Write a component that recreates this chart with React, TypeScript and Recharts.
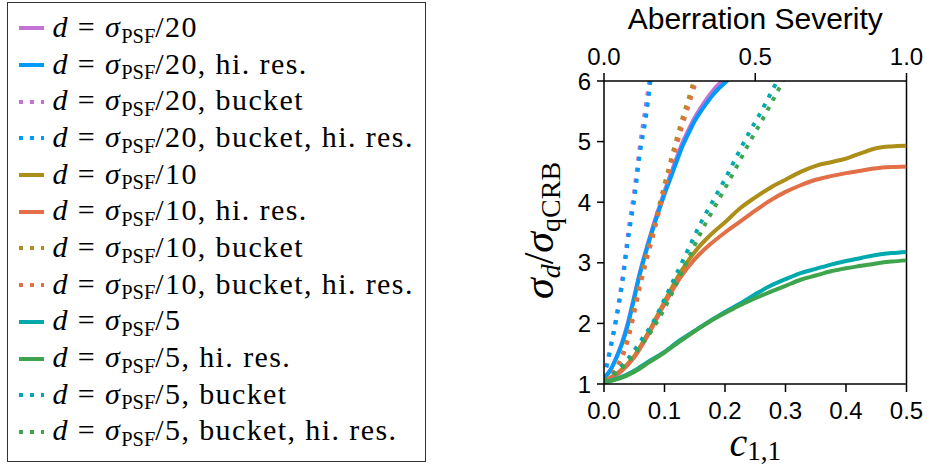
import React from 'react';
import { LineChart, Line, XAxis, YAxis, ReferenceLine, Label } from 'recharts';

// Plots.jl default palette
const PURPLE = '#c371d2';
const BLUE = '#009afa';
const OLIVE = '#ac8e18';
const ORANGE = '#e36f47';
const TEAL = '#00a9ad';
const GREEN = '#3ea44e';

// sample positions (c_{1,1})
const xSolid20 = [0, 0.01, 0.02, 0.03, 0.04, 0.05, 0.06, 0.07, 0.08, 0.09, 0.1, 0.11, 0.12, 0.13, 0.14, 0.15, 0.16, 0.17, 0.18, 0.19, 0.2, 0.21];
const xBucket20 = [0, 0.01, 0.02, 0.03, 0.04, 0.05, 0.06, 0.07, 0.08];
const xBucket10 = [0, 0.01, 0.02, 0.03, 0.04, 0.05, 0.06, 0.07, 0.08, 0.09, 0.1, 0.11, 0.12, 0.13, 0.14, 0.15, 0.16];
const xFull = [0, 0.025, 0.05, 0.075, 0.1, 0.125, 0.15, 0.175, 0.2, 0.225, 0.25, 0.275, 0.3, 0.325, 0.35, 0.375, 0.4, 0.425, 0.45, 0.475, 0.5];
const xBucket5 = [0, 0.02, 0.04, 0.06, 0.08, 0.1, 0.12, 0.14, 0.16, 0.18, 0.2, 0.22, 0.24, 0.26, 0.28, 0.3];

// sigma_d / sigma_qCRB
const ySolid20 = [1.1, 1.22, 1.43, 1.69, 2.03, 2.45, 2.87, 3.23, 3.57, 3.88, 4.18, 4.46, 4.73, 4.99, 5.2, 5.4, 5.56, 5.71, 5.84, 5.95, 6.04, 6.14];
const ySolid20Hi = [1.1, 1.22, 1.42, 1.67, 2.0, 2.42, 2.84, 3.2, 3.53, 3.84, 4.13, 4.4, 4.67, 4.93, 5.14, 5.34, 5.5, 5.64, 5.77, 5.88, 5.97, 6.07];
const yBucket20 = [1.1, 1.58, 2.1, 2.72, 3.5, 4.18, 4.98, 5.65, 6.35];
const yBucket20Hi = [1.1, 1.55, 2.05, 2.65, 3.4, 4.05, 4.85, 5.45, 6.3];
const ySolid10 = [1.05, 1.2, 1.46, 1.88, 2.36, 2.82, 3.18, 3.45, 3.67, 3.9, 4.08, 4.24, 4.37, 4.5, 4.6, 4.66, 4.72, 4.81, 4.89, 4.92, 4.93];
const ySolid10Hi = [1.05, 1.18, 1.44, 1.85, 2.32, 2.74, 3.06, 3.3, 3.5, 3.68, 3.86, 4.03, 4.17, 4.28, 4.37, 4.43, 4.48, 4.52, 4.56, 4.58, 4.59];
const yBucket10 = [1.05, 1.13, 1.27, 1.47, 1.8, 2.25, 2.72, 3.13, 3.5, 3.9, 4.3, 4.68, 5.05, 5.4, 5.72, 6.05, 6.38];
const yBucket10Hi = [1.05, 1.12, 1.25, 1.44, 1.74, 2.17, 2.62, 3.03, 3.4, 3.8, 4.2, 4.57, 4.93, 5.28, 5.6, 5.93, 6.25];
const ySolid5 = [1.03, 1.1, 1.22, 1.38, 1.53, 1.72, 1.88, 2.04, 2.19, 2.33, 2.48, 2.62, 2.73, 2.83, 2.9, 2.97, 3.03, 3.08, 3.13, 3.16, 3.18];
const ySolid5Hi = [1.03, 1.09, 1.2, 1.36, 1.52, 1.7, 1.87, 2.03, 2.17, 2.3, 2.415, 2.52, 2.62, 2.72, 2.79, 2.86, 2.91, 2.95, 2.99, 3.02, 3.04];
const yBucket5 = [1.05, 1.2, 1.42, 1.7, 2.0, 2.4, 2.82, 3.24, 3.66, 4.02, 4.38, 4.77, 5.15, 5.5, 5.88, 6.26];
const yBucket5Hi = [1.05, 1.18, 1.37, 1.62, 1.9, 2.25, 2.66, 3.08, 3.5, 3.87, 4.23, 4.6, 4.98, 5.33, 5.7, 6.08];

const xTicks = [0, 0.1, 0.2, 0.3, 0.4, 0.5];
const topTicks = [0, 0.5, 1];
const yTicks = [1, 2, 3, 4, 5, 6];

const zip = (xs: number[], ys: number[]) => xs.map((x, i) => ({ x, y: ys[i] }));

const SERIES = [
  { key: 's20', color: PURPLE, dotted: false, denom: '20', suffix: '', data: zip(xSolid20, ySolid20) },
  { key: 's20h', color: BLUE, dotted: false, denom: '20', suffix: ', hi. res.', data: zip(xSolid20, ySolid20Hi) },
  { key: 'b20', color: PURPLE, dotted: true, denom: '20', suffix: ', bucket', data: zip(xBucket20, yBucket20) },
  { key: 'b20h', color: BLUE, dotted: true, denom: '20', suffix: ', bucket, hi. res.', data: zip(xBucket20, yBucket20Hi) },
  { key: 's10', color: OLIVE, dotted: false, denom: '10', suffix: '', data: zip(xFull, ySolid10) },
  { key: 's10h', color: ORANGE, dotted: false, denom: '10', suffix: ', hi. res.', data: zip(xFull, ySolid10Hi) },
  { key: 'b10', color: OLIVE, dotted: true, denom: '10', suffix: ', bucket', data: zip(xBucket10, yBucket10) },
  { key: 'b10h', color: ORANGE, dotted: true, denom: '10', suffix: ', bucket, hi. res.', data: zip(xBucket10, yBucket10Hi) },
  { key: 's5', color: TEAL, dotted: false, denom: '5', suffix: '', data: zip(xFull, ySolid5) },
  { key: 's5h', color: GREEN, dotted: false, denom: '5', suffix: ', hi. res.', data: zip(xFull, ySolid5Hi) },
  { key: 'b5', color: TEAL, dotted: true, denom: '5', suffix: ', bucket', data: zip(xBucket5, yBucket5) },
  { key: 'b5h', color: GREEN, dotted: true, denom: '5', suffix: ', bucket, hi. res.', data: zip(xBucket5, yBucket5Hi) },
];

// carries the severity axis (0..1) so that its ticks get drawn; nothing visible
const severityAnchor = topTicks.map((x) => ({ x, y: null }));

const SANS = '"Liberation Sans", Arial, Helvetica, sans-serif';
const SERIF = '"Liberation Serif", "Times New Roman", serif';
const tickStyle = { fontFamily: SANS, fontSize: 24, fill: '#000' };
const axisStroke = { stroke: '#000', strokeWidth: 1.5 };

const YTitle = ({ viewBox }: any) => {
  const x = viewBox.x + viewBox.width - 51;
  const y = viewBox.y + viewBox.height / 2 - 2;
  return (
    <text x={x} y={y} transform={`rotate(-90 ${x} ${y})`} textAnchor="middle" fontFamily={SERIF} fontSize={42} fill="#000">
      <tspan fontStyle="italic">σ</tspan>
      <tspan fontStyle="italic" fontSize={28} dy={7}>d</tspan>
      <tspan dy={-7}>/</tspan>
      <tspan fontStyle="italic">σ</tspan>
      <tspan fontSize={28} dy={7}>qCRB</tspan>
    </text>
  );
};

const XTitle = ({ viewBox }: any) => {
  const x = viewBox.x + viewBox.width / 2;
  const y = viewBox.y + 72;
  return (
    <text x={x} y={y} textAnchor="middle" fontFamily={SERIF} fontSize={40} fill="#000">
      <tspan fontStyle="italic">c</tspan>
      <tspan fontSize={27} dy={4}>1,1</tspan>
    </text>
  );
};

const TopTitle = ({ viewBox }: any) => (
  <text x={viewBox.x + viewBox.width / 2} y={viewBox.y + 29} textAnchor="middle" fontFamily={SANS} fontSize={30} fill="#000">
    Aberration Severity
  </text>
);

function LegendBox() {
  return (
    <div
      style={{
        position: 'absolute',
        left: 7,
        top: 2,
        width: 419,
        height: 460,
        boxSizing: 'border-box',
        border: '1.5px solid #333',
        paddingTop: 7,
        background: '#fff',
        fontFamily: SERIF,
        fontSize: 30,
        color: '#000',
      }}
    >
      {SERIES.map((s) => (
        <div key={`lg-${s.key}`} style={{ height: 36.7, display: 'flex', alignItems: 'center', paddingLeft: 10.5 }}>
          <svg width={26} height={8} style={{ flex: 'none' }}>
            <line x1={0} y1={4} x2={25} y2={4} stroke={s.color} strokeWidth={4} strokeDasharray={s.dotted ? '4 7' : undefined} />
          </svg>
          <span style={{ marginLeft: 8, lineHeight: '36px', whiteSpace: 'nowrap', letterSpacing: 1.4 }}>
            <i>d</i>
            {' = '}
            <i>σ</i>
            <span style={{ fontSize: '0.68em', position: 'relative', top: '0.28em', letterSpacing: 0 }}>PSF</span>
            {'/' + s.denom + s.suffix}
          </span>
        </div>
      ))}
    </div>
  );
}

export default function App() {
  return (
    <div style={{ position: 'absolute', left: 0, top: 0, width: 927, height: 469, background: '#fff' }}>
      <LineChart width={927} height={469} margin={{ top: 0, right: 20.5, bottom: 0, left: 0 }}>
        <XAxis
          dataKey="x"
          type="number"
          domain={[0, 0.5]}
          ticks={xTicks}
          allowDataOverflow
          height={85}
          tickSize={8}
          tickMargin={10}
          tick={tickStyle}
          tickFormatter={(v: number) => v.toFixed(1)}
          axisLine={axisStroke}
          tickLine={axisStroke}
        >
          <Label content={(p: any) => <XTitle {...p} />} />
        </XAxis>
        <XAxis
          xAxisId="top"
          dataKey="x"
          orientation="top"
          type="number"
          domain={[0, 1]}
          ticks={topTicks}
          allowDataOverflow
          height={81}
          tickSize={8}
          tickMargin={8}
          tick={tickStyle}
          tickFormatter={(v: number) => v.toFixed(1)}
          axisLine={axisStroke}
          tickLine={axisStroke}
        >
          <Label content={(p: any) => <TopTitle {...p} />} />
        </XAxis>
        <YAxis
          type="number"
          domain={[1, 6]}
          ticks={yTicks}
          allowDataOverflow
          width={604}
          tickSize={7}
          tickMargin={6}
          tick={tickStyle}
          axisLine={axisStroke}
          tickLine={axisStroke}
        >
          <Label content={(p: any) => <YTitle {...p} />} />
        </YAxis>
        <ReferenceLine x={0.5} stroke="#000" strokeWidth={1.5} />
        <Line
          xAxisId="top"
          data={severityAnchor}
          dataKey="y"
          stroke="none"
          dot={false}
          activeDot={false}
          legendType="none"
          isAnimationActive={false}
        />
        {SERIES.map((s) => (
          <Line
            key={s.key}
            data={s.data}
            dataKey="y"
            type="monotone"
            stroke={s.color}
            strokeWidth={4}
            strokeDasharray={s.dotted ? '4 7' : undefined}
            dot={false}
            activeDot={false}
            isAnimationActive={false}
          />
        ))}
      </LineChart>
      <LegendBox />
    </div>
  );
}
